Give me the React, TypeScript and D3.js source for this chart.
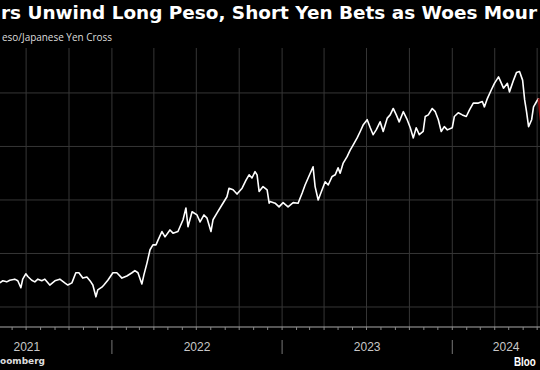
import React from 'react';
import * as d3 from 'd3';

// Mexican peso / Japanese yen cross, decimal years
const times = [
  2021.341, 2021.359, 2021.382, 2021.4, 2021.429, 2021.447, 2021.465, 2021.476, 2021.494, 2021.506,
  2021.529, 2021.547, 2021.565, 2021.588, 2021.606, 2021.635, 2021.665, 2021.694, 2021.723, 2021.741,
  2021.765, 2021.788, 2021.806, 2021.829, 2021.853, 2021.876, 2021.888, 2021.906, 2021.917, 2021.941,
  2021.953, 2021.976, 2022.006, 2022.029, 2022.059, 2022.088, 2022.118, 2022.135, 2022.153, 2022.176,
  2022.188, 2022.206, 2022.224, 2022.241, 2022.259, 2022.271, 2022.294, 2022.312, 2022.341, 2022.359,
  2022.388, 2022.418, 2022.435, 2022.447, 2022.471, 2022.5, 2022.518, 2022.541, 2022.559, 2022.582,
  2022.594, 2022.618, 2022.647, 2022.676, 2022.688, 2022.712, 2022.735, 2022.765, 2022.788, 2022.806,
  2022.823, 2022.841, 2022.853, 2022.865, 2022.888, 2022.912, 2022.924, 2022.929, 2022.959, 2022.982,
  2023.006, 2023.035, 2023.065, 2023.094, 2023.118, 2023.135, 2023.153, 2023.182, 2023.194, 2023.212,
  2023.235, 2023.253, 2023.271, 2023.294, 2023.312, 2023.329, 2023.341, 2023.359, 2023.382, 2023.4,
  2023.418, 2023.441, 2023.459, 2023.476, 2023.5, 2023.518, 2023.535, 2023.553, 2023.576, 2023.594,
  2023.618, 2023.635, 2023.653, 2023.671, 2023.688, 2023.712, 2023.735, 2023.753, 2023.771, 2023.788,
  2023.806, 2023.829, 2023.841, 2023.859, 2023.882, 2023.9, 2023.918, 2023.935, 2023.953, 2023.971,
  2024.0, 2024.012, 2024.035, 2024.059, 2024.082, 2024.1, 2024.123, 2024.153, 2024.176, 2024.188,
  2024.206, 2024.229, 2024.247, 2024.271, 2024.288, 2024.3, 2024.323, 2024.335, 2024.359, 2024.376,
  2024.394, 2024.412, 2024.424, 2024.435, 2024.447, 2024.465, 2024.476, 2024.494, 2024.506,
];
const values = [
  5.45, 5.49, 5.47, 5.5, 5.52, 5.49, 5.36, 5.52, 5.62, 5.57,
  5.5, 5.47, 5.52, 5.49, 5.52, 5.41, 5.49, 5.52, 5.45, 5.41,
  5.45, 5.64, 5.64, 5.54, 5.56, 5.47, 5.41, 5.19, 5.32, 5.37,
  5.41, 5.5, 5.64, 5.64, 5.54, 5.58, 5.64, 5.68, 5.64, 5.43,
  5.6, 5.82, 6.07, 6.16, 6.16, 6.25, 6.41, 6.31, 6.44, 6.38,
  6.41, 6.63, 6.85, 6.5, 6.78, 6.72, 6.59, 6.72, 6.66, 6.41,
  6.63, 6.76, 6.91, 7.06, 7.22, 7.19, 7.11, 7.22, 7.37, 7.47,
  7.41, 7.53, 7.47, 7.16, 7.25, 7.19, 6.94, 6.97, 6.94, 6.87,
  6.95, 6.87, 6.95, 6.94, 7.13, 7.28, 7.41, 7.62, 7.25, 7.0,
  7.19, 7.34, 7.28, 7.44, 7.47, 7.6, 7.5, 7.69, 7.81, 7.93,
  8.03, 8.16, 8.28, 8.4, 8.5, 8.35, 8.22, 8.31, 8.46, 8.28,
  8.53, 8.59, 8.71, 8.59, 8.46, 8.65, 8.5, 8.35, 8.16, 8.35,
  8.22, 8.28, 8.56, 8.59, 8.71, 8.65, 8.5, 8.28, 8.37, 8.31,
  8.35, 8.56, 8.63, 8.59, 8.56, 8.68, 8.81, 8.81, 8.84, 8.74,
  8.9, 9.06, 9.18, 9.3, 9.18, 9.09, 9.18, 9.02, 9.24, 9.38,
  9.4, 9.24, 8.87, 8.65, 8.37, 8.5, 8.74, 8.84, 8.9,
];
// latest move, highlighted in red
const recentTimes = [2024.506, 2024.512, 2024.518, 2024.53];
const recentValues = [8.9, 8.66, 8.5, 8.3];

const yearLabels = [2021, 2022, 2023, 2024];
const gridValues = [5, 6, 7, 8, 9];
const axisStart = new Date(2021, 4, 6);
const axisEnd = new Date(2024, 7, 19);

// texts as they appear in the (cropped) picture
const title = 'rs Unwind Long Peso, Short Yen Bets as Woes Mour';
const subtitle = 'eso/Japanese Yen Cross';
const source = 'oomberg';
const logo = 'Bloo';

const toDate = (t: number) => {
  const y = Math.floor(t);
  const a = new Date(y, 0, 1).getTime();
  const b = new Date(y + 1, 0, 1).getTime();
  return new Date(a + (t - y) * (b - a));
};

const width = 540;
const height = 370;
const plotTop = 48;
const plotBottom = 327;

export default function App() {
  const x = d3.scaleTime().domain([axisStart, axisEnd]).range([0, 560]);
  const y = d3.scaleLinear().domain([4.626, 9.84]).range([plotBottom, plotTop]);

  const line = d3.line<[number, number]>()
    .x(d => x(toDate(d[0])))
    .y(d => y(d[1]));

  const main = times.map((t, i) => [t, values[i]] as [number, number]);
  const recent = recentTimes.map((t, i) => [t, recentValues[i]] as [number, number]);

  const months = d3.timeMonth.range(new Date(2021, 0, 1), axisEnd);
  const quarters = d3.timeMonth.every(3)!.range(new Date(2021, 0, 1), axisEnd);
  const yearStarts = d3.timeYear.range(new Date(2022, 0, 1), axisEnd);

  const sans = '"Open Sans", sans-serif';
  const arial = '"Liberation Sans", Arial, sans-serif';
  const dejavu = '"DejaVu Sans", sans-serif';

  return (
    <>
      <style>{`body{margin:0;background:#000}`}</style>
      <svg width={width} height={height} style={{ display: 'block', background: '#000' }}>
        <rect width={width} height={height} fill="#000" />

        {/* gridlines */}
        {gridValues.map(v => (
          <line key={v} x1={0} x2={width} y1={y(v)} y2={y(v)} stroke="#363636" strokeWidth={1} />
        ))}
        {quarters.map(d => (
          <line key={+d} x1={x(d)} x2={x(d)} y1={plotTop} y2={plotBottom} stroke="#363636" strokeWidth={1} />
        ))}

        {/* x axis */}
        <line x1={0} x2={width} y1={plotBottom} y2={plotBottom} stroke="#aaa" strokeWidth={1} />
        {months.map(d => (
          <line key={+d} x1={x(d)} x2={x(d)} y1={plotBottom} y2={plotBottom + 3} stroke="#888" />
        ))}
        {yearStarts.map(d => (
          <line key={+d} x1={x(d)} x2={x(d)} y1={340} y2={354} stroke="#777" />
        ))}
        {yearLabels.map(yr => {
          const a = new Date(yr, 0, 1);
          const b = new Date(Math.min(+new Date(yr + 1, 0, 1), +axisEnd));
          return (
            <text key={yr} x={(x(a) + x(b)) / 2} y={351} textAnchor="middle"
              fill="#c8c8c8" fontSize={12} fontFamily={arial}>{yr}</text>
          );
        })}

        {/* series */}
        <path d={line(main) || ''} fill="none" stroke="#fff" strokeWidth={1.6} strokeLinejoin="round" />
        <path d={line(recent) || ''} fill="none" stroke="#8a1010" strokeWidth={2} />

        {/* titles */}
        <text x={1} y={19} fill="#fff" fontSize={18.5} fontWeight="bold" fontFamily={dejavu}
          textLength={536} lengthAdjust="spacingAndGlyphs">{title}</text>
        <text x={2} y={41} fill="#ddd" fontSize={10.5} fontFamily={sans}
          textLength={110} lengthAdjust="spacingAndGlyphs">{subtitle}</text>

        {/* footer */}
        <text x={0} y={364} fill="#ddd" fontSize={9} fontWeight="bold" fontFamily={dejavu}
          textLength={45} lengthAdjust="spacingAndGlyphs">{source}</text>
        <text transform="translate(514,365.5) scale(0.82,1)" fill="#fff" fontSize={12}
          fontWeight="bold" fontFamily={arial}>{logo}</text>
      </svg>
    </>
  );
}
